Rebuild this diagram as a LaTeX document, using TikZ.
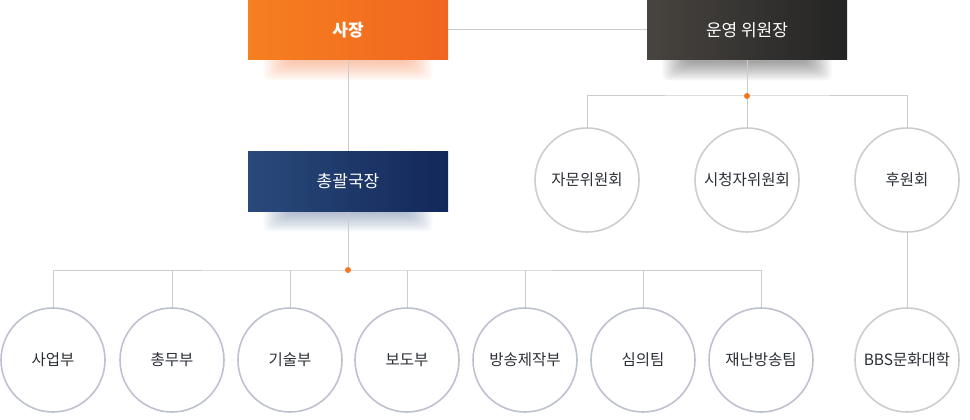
\documentclass[tikz,border=0pt]{standalone}
\usepackage{fontspec}
\setmainfont{Noto Sans CJK KR}
\usetikzlibrary{backgrounds}
\definecolor{lineg}{HTML}{CCCCCC}
\definecolor{circb}{HTML}{BEC2CF}
\definecolor{circg}{HTML}{CDCDCD}
\definecolor{dotor}{HTML}{F47721}
\definecolor{txt}{HTML}{2B2F36}
\definecolor{orA}{HTML}{F5801F}
\definecolor{orB}{HTML}{F26520}
\definecolor{nvA}{HTML}{2A4A7B}
\definecolor{nvB}{HTML}{13275A}
\definecolor{dkA}{HTML}{48443F}
\definecolor{dkB}{HTML}{242424}
\newcommand{\boxshadow}[2]{%
  \foreach \i in {1,...,12}{%
    \fill[#2, opacity=0.035, rounded corners=6pt]
      ([xshift={42pt-2.2pt*\i}, yshift=10pt]#1.south west) rectangle
      ([xshift={-42pt+2.2pt*\i}, yshift={-1pt-1.6pt*\i}]#1.south east);
  }%
}
\tikzset{
  orgbox/.style={minimum width=200pt, minimum height=60pt, inner sep=0pt,
    text=white, font=\fontsize{17}{17}\selectfont},
  orgcirc/.style={circle, minimum size=104pt, inner sep=0pt, line width=1.6pt,
    fill=white, text=txt, font=\fontsize{15.5}{15.5}\selectfont},
  bluec/.style={orgcirc, draw=circb},
  greyc/.style={orgcirc, draw=circg},
  conn/.style={draw=lineg, line width=1pt},
  jdot/.style={circle, fill=dotor, minimum size=6pt, inner sep=0pt},
}
\begin{document}
\begin{tikzpicture}[x=1pt, y=-1pt]
\useasboundingbox (0,0) rectangle (970,420);
% boxes
\node[orgbox, left color=orA, right color=orB, font=\fontsize{17}{17}\selectfont\bfseries] (sajang) at (348,30) {사장};
\node[orgbox, left color=dkA, right color=dkB] (unyeong) at (747,30) {운영 위원장};
\node[orgbox, left color=nvA, right color=nvB] (chong) at (348,181) {총괄국장};
% junctions
\coordinate (j1) at (348,270);
\coordinate (j2) at (747,96);
% bottom circles
\node[bluec] (c1) at (53,360) {사업부};
\node[bluec] (c2) at (172,360) {총무부};
\node[bluec] (c3) at (290,360) {기술부};
\node[bluec] (c4) at (407,360) {보도부};
\node[bluec] (c5) at (525,360) {방송제작부};
\node[bluec] (c6) at (643,360) {심의팀};
\node[bluec] (c7) at (761,360) {재난방송팀};
% right circles
\node[greyc] (a1) at (587,180) {자문위원회};
\node[greyc] (a2) at (747,180) {시청자위원회};
\node[greyc] (a3) at (907,180) {후원회};
\node[greyc] (bbs) at (907,360) {BBS문화대학};
\begin{pgfonlayer}{background}
  \boxshadow{sajang}{orB}
  \boxshadow{unyeong}{black}
  \boxshadow{chong}{nvA}
  \draw[conn] (sajang) -- (unyeong);
  \draw[conn] (sajang.south) -- (chong.north);
  \draw[conn] (chong.south) -- (j1);
  \draw[conn] (c1.north) |- (j1) -| (c7.north);
  \foreach \n in {c2,c3,c4,c5,c6} { \draw[conn] (\n.north) -- (\n |- j1); }
  \draw[conn] (unyeong.south) -- (a2.north);
  \draw[conn] (a1.north) |- (j2) -| (a3.north);
  \draw[conn] (a3.south) -- (bbs.north);
\end{pgfonlayer}
\node[jdot] (d1) at (j1) {};
\node[jdot] (d2) at (j2) {};
\end{tikzpicture}
\end{document}
